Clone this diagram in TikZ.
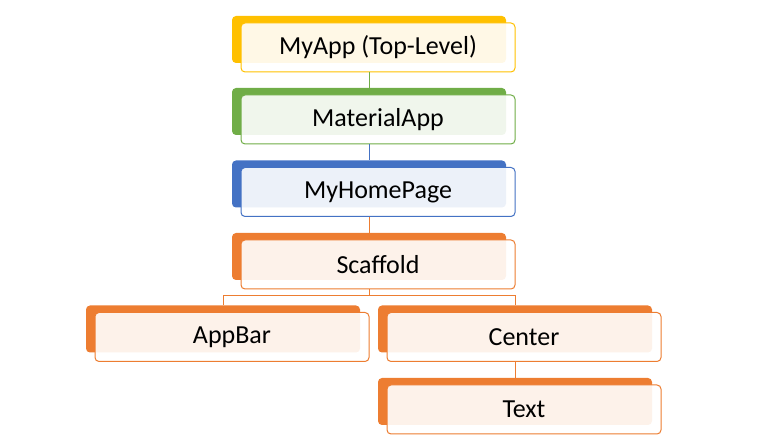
\documentclass[tikz,border=0pt]{standalone}
\usepackage{fontspec}
\setmainfont{Carlito}
\usetikzlibrary{positioning}
\definecolor{appgold}{HTML}{FFC000}
\definecolor{appgreen}{HTML}{70AD47}
\definecolor{appblue}{HTML}{4472C4}
\definecolor{apporange}{HTML}{ED7D31}

\begin{document}
\begin{tikzpicture}[x=0.75pt,y=-0.75pt,
    back/.style={fill=#1, rounded corners=3pt, inner sep=0pt,
        minimum width=205.5pt, minimum height=35.25pt},
    front/.style={draw=#1, line width=0.75pt, fill=white, fill opacity=0.9,
        text opacity=1, rounded corners=3pt, inner sep=0pt,
        minimum width=205.5pt, minimum height=36.75pt,
        font=\fontsize{19.5}{23}\selectfont},
    link/.style={draw=#1, line width=0.75pt}]
            \useasboundingbox (0,0) rectangle (775,448);
            % top level
            \node [back=appgold] (myappB) at (369,39.5) {};
            \node [front=appgold] (myappF) at (378,47.5) {MyApp (Top-Level)};
            \node [back=appgreen] (matappB) at (369,111.5) {};
            \node [front=appgreen] (matappF) at (378,119.5) {MaterialApp};
            \node [back=appblue] (homeB) at (369,184) {};
            \node [front=appblue] (homeF) at (378,192) {MyHomePage};
            \node [back=apporange] (scafB) at (369,256.5) {};
            \node [front=apporange] (scafF) at (378,264.5) {Scaffold};
            % children of Scaffold
            \node [back=apporange] (appbarB) at (223,329) {};
            \node [front=apporange] (appbarF) at (232,337) {AppBar};
            \node [back=apporange] (centerB) at (515,329) {};
            \node [front=apporange] (centerF) at (524,337) {Center};
            \node [back=apporange] (textB) at (515,401.5) {};
            \node [front=apporange] (textF) at (524,409.5) {Text};
            % links
            \draw [link=appgreen] (myappF.south -| myappB) -- (matappB.north);
            \draw [link=appblue] (matappF.south -| matappB) -- (homeB.north);
            \draw [link=apporange] (homeF.south -| homeB) -- (scafB.north);
            \draw [link=apporange] (scafF.south -| scafB) -- ++(0,6.5) coordinate (split);
            \draw [link=apporange] (split) -| (appbarB.north);
            \draw [link=apporange] (split) -| (centerB.north);
            \draw [link=apporange] (centerF.south -| centerB) -- (textB.north);
\end{tikzpicture}
\end{document}
